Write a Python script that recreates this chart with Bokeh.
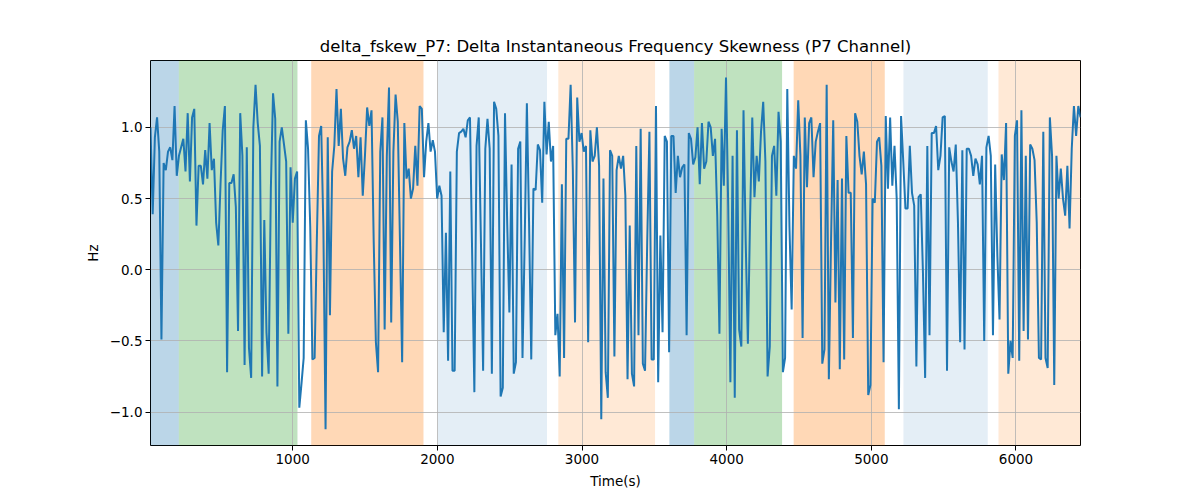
import numpy as np
from bokeh.plotting import figure
from bokeh.models import BoxAnnotation, FixedTicker, Range1d
from bokeh.embed import file_html
from bokeh.resources import INLINE

T_START = 17
T_END = 6446

values = [
    1.0, 0.39, 0.93, 1.07, 0.83, -0.49, 0.75, 0.70, 0.83, 0.86, 0.77, 1.15, 0.66, 0.80, 0.86, 0.92,
    0.69, 1.10, 0.62, 1.07, 1.13, 0.31, 0.73, 0.73, 0.60, 0.84, 0.64, 1.03, 0.70, 0.78, 0.33, 0.17,
    0.60, 0.98, 1.15, -0.72, 0.61, 0.61, 0.67, 0.44, -0.43, 1.10, 0.80, -0.67, 0.86, -0.55, -0.76,
    1.0, 1.30, 1.03, 0.87, -0.75, 0.35, -0.44, -0.73, 0.57, 1.24, 1.06, -0.82, 0.90, 1.0, 0.88, 0.76,
    -0.45, 0.72, 0.33, 0.64, 0.69,
    -0.97, -0.80, -0.62, 1.05, 0.85, 0.30, -0.63, -0.62, 0.20, 0.94, 1.01, 0.30, -1.12, 0.93, -0.32,
    0.69, 0.87, 1.27, 0.87, 1.13, 0.78, 0.66, 0.86, 0.90, 0.98, 0.85, 0.94, 0.65, 0.93, 0.52, 0.80,
    1.14, 1.01, 1.12, 0.20, -0.51, -0.72, 0.83, 1.07, -0.42, 0.80, 1.28, -0.37, 0.83, 1.23, 1.04,
    0.20, -0.65, 1.03, 0.64, 0.71, 0.50, 0.57, 0.87, 0.59, 1.15, 1.13, 0.65, 0.90, 1.03, 0.83, 0.91,
    0.83, 0.50, 0.59, 0.52, -0.44, 0.26,
    -0.64, 0.69, -0.71, -0.71, 0.83, 0.96, 0.97, 0.99, 0.93, 1.05, 1.07, 0.10, -0.86, 0.87, 1.07,
    0.20, -0.71, 0.85, 1.06, 0.85, -0.73, 1.18, 1.13, 0.94, -0.89, -0.83, 1.10, 0.33, -0.30, 0.74,
    -0.73, -0.65, 0.85, 0.90, -0.62, 0.20, 1.17, 0.33, -0.63, 0.57, 0.56, 0.88, 0.84, 0.47, 1.18,
    0.81, 1.04, 0.76, 0.87, -0.46, -0.31, -0.75, 0.60, -0.62, 0.92, 0.92, 1.30, 0.70, -0.37, 1.21,
    0.90, 0.96, 0.83, 0.87, -0.51, 0.98, 0.76, 0.80, 1.0,
    0.73, -1.05, 0.64, -0.72, -0.90, 0.84, 0.80, -0.61, 0.70, 0.80, 0.71, 0.80, 0.52, -0.77, 0.31,
    -0.73, -0.82, 0.87, -0.46, 0.99, -0.66, -0.71, 0.20, 0.97, -0.63, -0.63, 1.15, -0.79, 0.24,
    -0.44, 0.94, 0.90, -0.58, 0.94, 0.94, 0.54, 0.80, 0.65, 0.72, 0.74, -0.46, 0.96, 0.92, 0.74,
    0.79, 1.0, 0.60, 1.03, 0.71, 0.76, 1.04, 1.0, 0.80, 0.92, 0.38, -0.45, 0.99, 0.59, 1.35, 0.45,
    -0.79, 0.80, -0.90, 0.98,
    -0.42, -0.54, 1.12, 0.20, -0.52, 0.37, 1.07, 0.51, 0.80, 0.62, 0.97, 1.18, 0.76, -0.75, -0.54,
    0.80, 0.87, 0.52, 1.11, 0.90, -0.72, -0.62, 1.27, 0.30, -0.28, 0.80, 0.71, 1.19, 0.80, -0.48,
    1.07, 0.58, 1.03, 1.07, 0.65, 0.90, 0.97, 1.03, -0.66, -0.56, 1.30, -0.77, 0.20, 1.05, -0.23,
    0.63, -0.70, 0.64, -0.63, 0.94, 0.54, 0.54, -0.48, 1.10, 1.04, 0.80, 0.67, 0.83, 0.60, -0.88,
    -0.81, 0.50, 0.47, 0.90, 0.93, 0.73, -0.65, 1.08, 0.57, 1.07,
    0.59, 0.87, 0.50, -0.98, 1.08, 0.76, 0.43, 0.43, 0.87, 0.54, 0.45, -0.68, 0.51, 0.53, -0.02,
    -0.76, 0.87, -0.46, 0.96, 0.96, 1.01, 0.70, 0.80, 1.07, 1.08, -0.71, 0.86, 0.76, 0.69, 0.88,
    0.33, -0.51, 0.84, -0.56, 0.85, 0.85, 0.80, 0.66, 0.78, 0.74, 0.60, 0.80, -0.50, 0.86, 0.94,
    0.80, -0.46, 0.74, 0.10, -0.35, 0.81, 0.63, 1.03, -0.73, -0.50, -0.62, 0.94, 1.05, -0.64, 1.12,
    -0.43, 0.80, -0.49, 0.88, 0.85, 0.77, 0.33, -0.62, -0.63, 0.97, -0.62, -0.69, 1.07, 0.80, -0.81,
    0.80, 0.50, 0.71, 0.50, 0.38, 0.73, 0.29, 0.85, 1.15, 0.94, 1.15, 1.07,
]

region_start = [17, 213, 1128, 2004, 2836, 3604, 3775, 4463, 5222, 5879]
region_end = [213, 1033, 1904, 2758, 3505, 3775, 4383, 5093, 5805, 6446]
region_color = ["#1f77b4", "#2ca02c", "#ff7f0e", "#1f77b4", "#ff7f0e",
                "#1f77b4", "#2ca02c", "#ff7f0e", "#1f77b4", "#ff7f0e"]
region_alpha = [0.3, 0.3, 0.3, 0.12, 0.17, 0.3, 0.3, 0.3, 0.12, 0.17]

y_ticks = [-1.0, -0.5, 0.0, 0.5, 1.0]
y_tick_labels = ["\u22121.0", "\u22120.5", "0.0", "0.5", "1.0"]
x_ticks = [1000, 2000, 3000, 4000, 5000, 6000]

times = np.linspace(T_START, T_END, len(values))

FONT = "DejaVu Sans"

p = figure(width=1184, height=492, output_backend="svg", toolbar_location=None,
           x_range=Range1d(T_START, T_END), y_range=Range1d(-1.235, 1.47),
           min_border_left=150, min_border_right=104, min_border_top=60, min_border_bottom=47,
           title="delta_fskew_P7: Delta Instantaneous Frequency Skewness (P7 Channel)")

p.title.align = "center"
p.title.text_font = FONT
p.title.text_font_size = "16.5px"
p.title.text_font_style = "normal"
p.title.text_color = "black"
p.title.offset = 0

for s, e, c, a in zip(region_start, region_end, region_color, region_alpha):
    p.add_layout(BoxAnnotation(left=s, right=e, fill_color=c, fill_alpha=a,
                               line_color=None, level="image"))

p.line(times, values, line_color="#1f77b4", line_width=2)

p.outline_line_color = "black"
p.outline_line_width = 1
p.outline_line_alpha = 1

for g in (p.xgrid[0], p.ygrid[0]):
    g.grid_line_color = "#b0b0b0"
    g.grid_line_width = 0.8

p.xaxis.ticker = FixedTicker(ticks=x_ticks)
p.yaxis.ticker = FixedTicker(ticks=y_ticks)
p.yaxis.major_label_overrides = {t: l for t, l in zip(y_ticks, y_tick_labels)}
p.xaxis.axis_label = "Time(s)"
p.yaxis.axis_label = "Hz"

for ax in (p.xaxis[0], p.yaxis[0]):
    ax.axis_line_color = None
    ax.major_tick_line_color = "black"
    ax.major_tick_out = 5
    ax.major_tick_in = 0
    ax.minor_tick_line_color = None
    ax.major_label_text_font = FONT
    ax.major_label_text_font_size = "13.5px"
    ax.major_label_text_color = "black"
    ax.axis_label_text_font = FONT
    ax.axis_label_text_font_size = "13.5px"
    ax.axis_label_text_font_style = "normal"
    ax.axis_label_text_color = "black"
    ax.major_label_standoff = 3
    ax.axis_label_standoff = 6

p.background_fill_color = "white"
p.border_fill_color = "white"

open("out.html", "w").write(file_html(p, INLINE))
